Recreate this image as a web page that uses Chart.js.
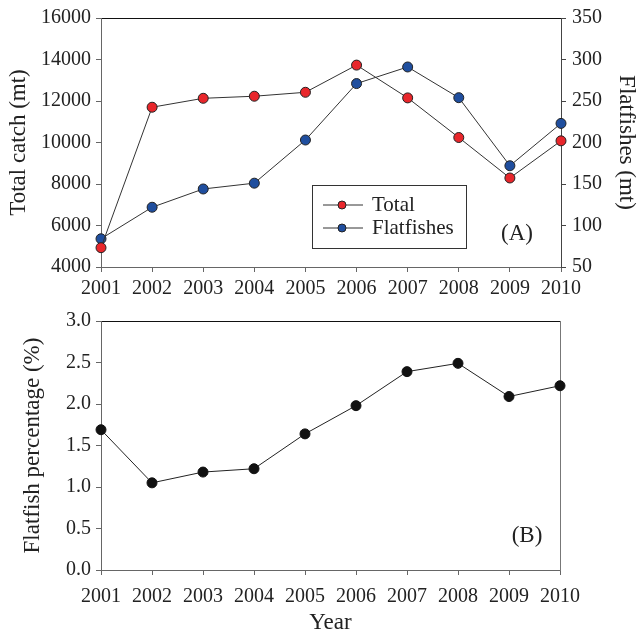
<!DOCTYPE html>
<html><head><meta charset="utf-8">
<script src="https://cdn.jsdelivr.net/npm/chart.js@4.4.1/dist/chart.umd.min.js"></script>
<style>
html,body{margin:0;padding:0;background:#fff;width:640px;height:637px;overflow:hidden}
#a{position:absolute;left:0;top:0}
#b{position:absolute;left:0;top:300px}
</style>
</head><body>
<canvas id="a" width="640" height="300"></canvas>
<canvas id="b" width="640" height="337"></canvas>
<script>
const years = ['2001','2002','2003','2004','2005','2006','2007','2008','2009','2010'];
const totalCatch = [4930, 11700, 12130, 12230, 12420, 13730, 12150, 10240, 8290, 10080];
const flatfishes = [84, 122, 144, 151, 203, 271, 291, 254, 172, 223];
const flatfishPct = [1.69, 1.05, 1.18, 1.22, 1.64, 1.98, 2.39, 2.49, 2.09, 2.22];
const totalTicks = [4000, 6000, 8000, 10000, 12000, 14000, 16000];
const flatTicks = [50, 100, 150, 200, 250, 300, 350];
const pctTicks = [0.0, 0.5, 1.0, 1.5, 2.0, 2.5, 3.0];

Chart.defaults.font.family = "'Liberation Serif', 'Times New Roman', serif";
Chart.defaults.color = '#222';
Chart.defaults.animation = false;

const tickFont = {size: 20};
const titleFont = {size: 23};
const axisGray = '#666';

function setTicks(arr){ return s => { s.ticks = arr.map(v => ({value: v})); }; }
const plain = v => String(v);

function xAxis(height, title, pad){
  return {
    type: 'category', position: 'bottom',
    grid: {display: true, drawOnChartArea: false, drawTicks: true, tickLength: 5, color: axisGray},
    border: {display: true, color: axisGray, width: 1},
    ticks: {font: tickFont, padding: pad, maxRotation: 0, autoSkip: false, color: '#222'},
    title: title ? {display: true, text: title, font: titleFont, color: '#222', padding: {top: 0, bottom: 0}} : {display: false},
    afterFit: s => { s.height = height; }
  };
}
function frameTop(){
  return {
    type: 'category', position: 'top',
    grid: {display: false, drawTicks: false},
    border: {display: true, color: '#111', width: 1},
    ticks: {display: false},
    afterFit: s => { s.height = 0; }
  };
}

const legendPlugin = {
  id: 'legendA',
  afterDraw(chart){
    const ctx = chart.ctx;
    ctx.save();
    ctx.strokeStyle = '#333'; ctx.lineWidth = 1;
    ctx.strokeRect(312.5, 185.5, 154, 63);
    const rows = [205, 228];
    chart.data.datasets.forEach((ds, i) => {
      const y = rows[i];
      ctx.beginPath(); ctx.moveTo(323, y); ctx.lineTo(363, y);
      ctx.strokeStyle = ds.borderColor; ctx.lineWidth = 1; ctx.stroke();
      ctx.beginPath(); ctx.arc(342, y, 4, 0, Math.PI * 2);
      ctx.fillStyle = ds.pointBackgroundColor; ctx.fill();
      ctx.strokeStyle = ds.pointBorderColor; ctx.stroke();
      ctx.fillStyle = '#222'; ctx.font = "21px 'Liberation Serif'";
      ctx.textBaseline = 'middle'; ctx.textAlign = 'left';
      ctx.fillText(ds.label, 372, y);
    });
    ctx.font = "23px 'Liberation Serif'"; ctx.textAlign = 'center';
    ctx.fillText('(A)', 517, 234);
    ctx.restore();
  }
};
const labelB = {
  id: 'labelB',
  afterDraw(chart){
    const ctx = chart.ctx;
    ctx.save();
    ctx.fillStyle = '#222'; ctx.font = "23px 'Liberation Serif'";
    ctx.textBaseline = 'middle'; ctx.textAlign = 'center';
    ctx.fillText('(B)', 527, 236);
    ctx.restore();
  }
};

new Chart(document.getElementById('a'), {
  type: 'line',
  data: {
    labels: years,
    datasets: [
      {label: 'Total', data: totalCatch, yAxisID: 'y', borderColor: '#333', borderWidth: 1,
       pointBackgroundColor: '#e8262b', pointBorderColor: '#222', pointBorderWidth: 1, pointRadius: 5, tension: 0},
      {label: 'Flatfishes', data: flatfishes, yAxisID: 'y1', borderColor: '#333', borderWidth: 1,
       pointBackgroundColor: '#1f4e9e', pointBorderColor: '#222', pointBorderWidth: 1, pointRadius: 5, tension: 0}
    ]
  },
  options: {
    responsive: false, devicePixelRatio: 1,
    layout: {padding: {top: 17, left: 0, right: 0, bottom: 0}},
    plugins: {legend: {display: false}, tooltip: {enabled: false}},
    scales: {
      x: xAxis(33, null, 5),
      xTop: frameTop(),
      y: {
        position: 'left', min: 4000, max: 16000,
        afterBuildTicks: setTicks(totalTicks),
        grid: {drawOnChartArea: false, drawTicks: true, tickLength: 5, color: axisGray},
        border: {display: true, color: axisGray},
        ticks: {font: tickFont, padding: 5, color: '#222', callback: plain},
        title: {display: true, text: 'Total catch (mt)', font: titleFont, color: '#222', padding: {top: 5, bottom: 0}},
        afterFit: s => { s.width = 101; }
      },
      y1: {
        position: 'right', min: 50, max: 350,
        afterBuildTicks: setTicks(flatTicks),
        grid: {drawOnChartArea: false, drawTicks: true, tickLength: 5, color: '#444'},
        border: {display: true, color: '#444'},
        ticks: {font: tickFont, padding: 6, color: '#222', callback: plain},
        title: {display: true, text: 'Flatfishes (mt)', font: titleFont, color: '#222', padding: {top: 0, bottom: 0}},
        afterFit: s => { s.width = 79; }
      }
    }
  },
  plugins: [legendPlugin]
});

new Chart(document.getElementById('b'), {
  type: 'line',
  data: {
    labels: years,
    datasets: [
      {label: 'Flatfish percentage', data: flatfishPct, borderColor: '#222', borderWidth: 1,
       pointBackgroundColor: '#111', pointBorderColor: '#111', pointRadius: 5, tension: 0}
    ]
  },
  options: {
    responsive: false, devicePixelRatio: 1,
    layout: {padding: {top: 21, left: 0, right: 0, bottom: 0}},
    plugins: {legend: {display: false}, tooltip: {enabled: false}},
    scales: {
      x: xAxis(67, 'Year', 10),
      xTop: frameTop(),
      y: {
        position: 'left', min: 0, max: 3,
        afterBuildTicks: setTicks(pctTicks),
        grid: {drawOnChartArea: false, drawTicks: true, tickLength: 5, color: axisGray},
        border: {display: true, color: axisGray},
        ticks: {font: tickFont, padding: 5, color: '#222', callback: v => Number(v).toFixed(1)},
        title: {display: true, text: 'Flatfish percentage (%)', font: titleFont, color: '#222', padding: {top: 19, bottom: 0}},
        afterFit: s => { s.width = 101; }
      },
      yRight: {
        position: 'right', min: 0, max: 3,
        grid: {display: false, drawTicks: false},
        border: {display: true, color: '#777'},
        ticks: {display: false},
        afterFit: s => { s.width = 80; }
      }
    }
  },
  plugins: [labelB]
});
</script>
</body></html>
